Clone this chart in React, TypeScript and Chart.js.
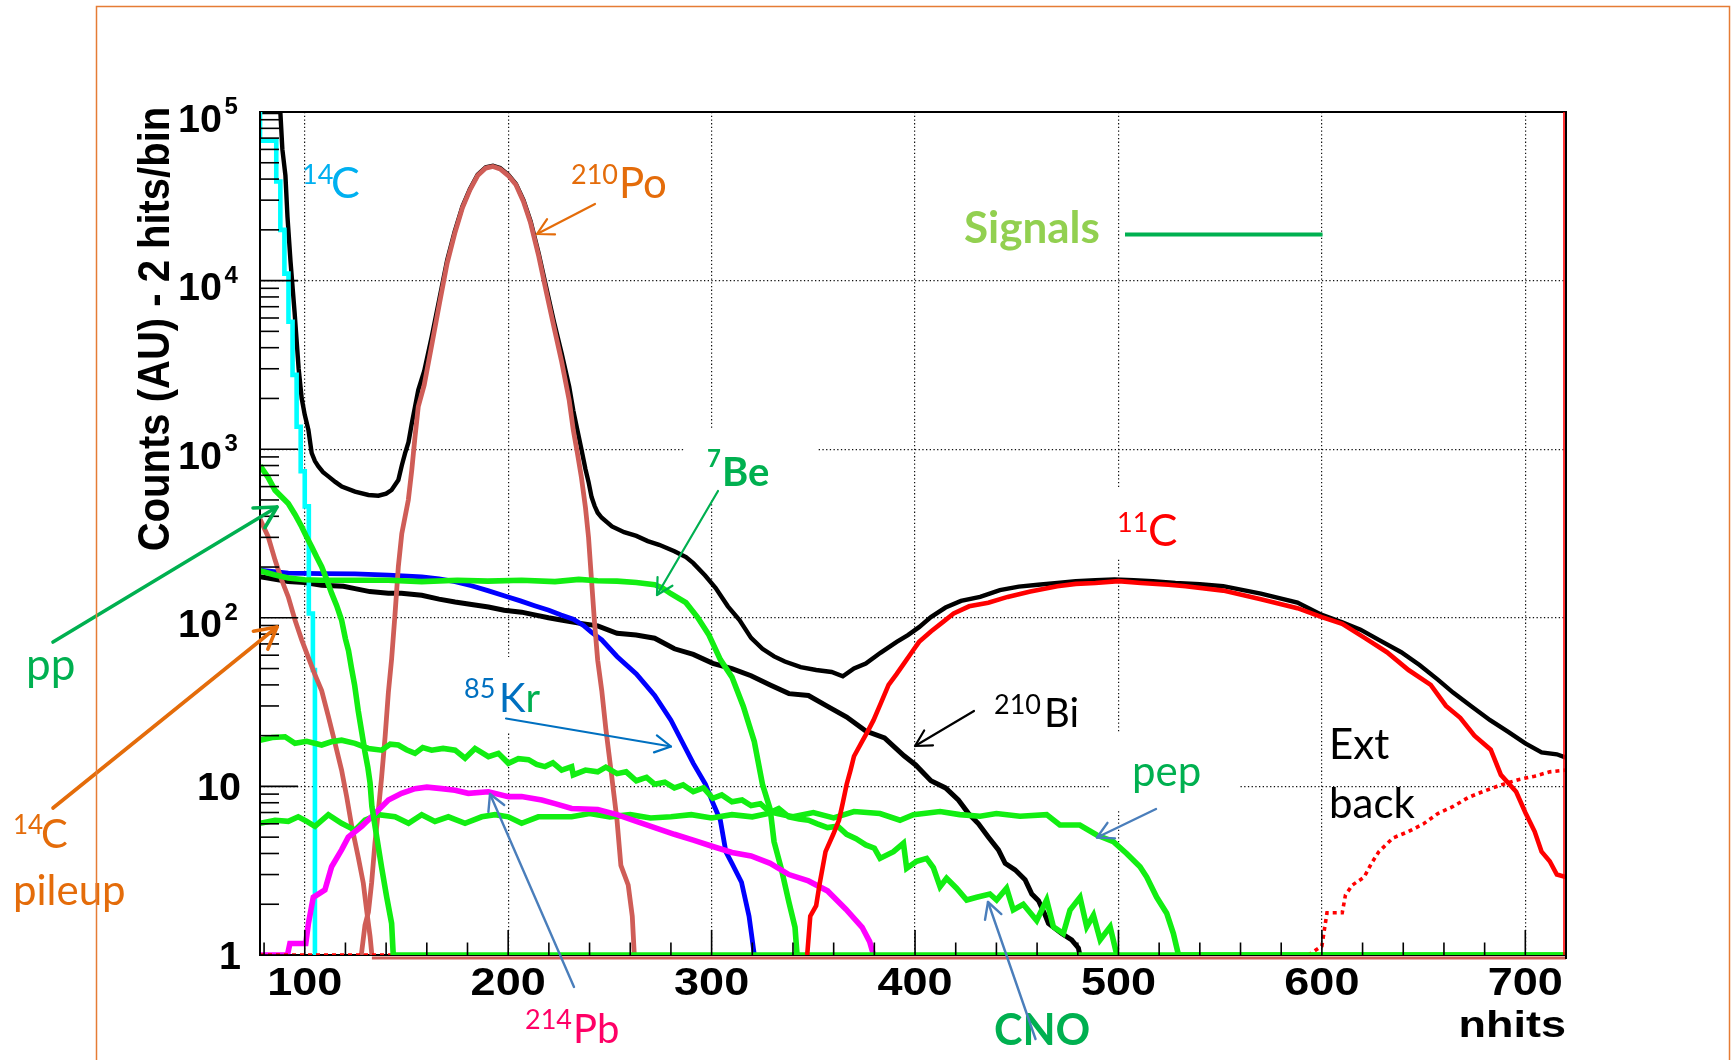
import React, { useEffect, useRef } from 'react';
import { Chart, registerables } from 'chart.js';

Chart.register(...registerables);

const W = 1732;
const H = 1060;

// ---- axis ranges and ticks ----
const X_MIN = 78;
const X_MAX = 720;
const Y_MIN = 1;
const Y_MAX = 100000;
const xTickValues = [100, 200, 300, 400, 500, 600, 700];
const xTickLabels = ['100', '200', '300', '400', '500', '600', '700'];
const yTickValues = [1, 10, 100, 1000, 10000, 100000];
const yTickBases = ['1', '10', '10', '10', '10', '10'];
const yTickExps = ['', '', '2', '3', '4', '5'];
const yGridValues = [10, 100, 1000, 10000];

// ---- series: [nhits, counts] ----
const totalSpectrum = [
  [78, 1e5], [88, 1e5], [89, 60000], [90.5, 42000], [91.5, 24000], [93, 13000], [95, 6500], [97, 3000], [98.5, 2000],
  [100, 1600], [101.8, 1300], [103.4, 950], [105, 850], [106.7, 790], [109, 730], [111.6, 690], [115, 640],
  [118.2, 600], [124.7, 560], [131.3, 535], [136.2, 530], [140, 545], [142.7, 573], [146, 656], [147.7, 800],
  [149.3, 944], [151, 1100], [152.6, 1420], [155.8, 2240], [158.7, 2900], [162.5, 4700], [166.2, 7800],
  [170, 13200], [173.7, 19500], [177.5, 27500], [181.2, 35000], [185, 42500], [189, 47000], [192.5, 48000],
  [196, 46500], [200, 42500], [203.8, 37500], [207.5, 30000], [211, 22500], [215, 14500], [218.8, 9000],
  [222.5, 5700], [226.3, 3700], [230, 2350], [232, 1700], [234, 1300], [236, 1000], [238, 760], [239.5, 640],
  [241, 520], [242.5, 460], [244, 420], [246, 392], [251, 348], [257, 322], [263, 306], [268.6, 285],
  [274.2, 271], [281.7, 248], [287.4, 229], [291, 211], [296.8, 178], [302, 150], [308, 117], [313.7, 97],
  [319.4, 76], [325, 65.5], [330.7, 59], [336, 55], [343.8, 51], [351.4, 49], [359, 47.7], [364.5, 45],
  [370, 50], [375.8, 53.5], [383, 62], [391, 72], [396.5, 79], [402, 88], [407.8, 101], [415, 115],
  [422.6, 126], [432, 133], [441.7, 146], [451, 153], [460.5, 157], [470, 161], [479, 165], [488.7, 167],
  [498, 169], [507.5, 167], [517, 165], [528, 161], [540, 158], [551.5, 154], [570, 139], [588, 123],
  [600, 104], [610, 94], [619, 85], [628, 74], [639, 62.5], [648, 52.5], [657, 43], [664.5, 36],
  [673.6, 29.8], [682.7, 24.7], [691.8, 21], [700, 18], [708, 15.9], [715.5, 15.5], [720, 14.8],
];

const c14Steps = [
  [78, 1e5], [86, 67600], [88, 38700], [90, 20000], [92, 11000], [94, 5700], [96, 2760], [98, 1360],
  [100, 740], [102, 458], [104, 106], [105, 49], [106, 1],
];

const po210 = [
  [127.8, 1], [129.6, 1.5], [131.3, 1.8], [132.9, 2.7], [134.5, 4.6], [136.2, 7.2], [137.8, 11.4], [139.5, 19.7],
  [141.1, 36], [142.7, 57], [144.4, 106], [146, 201], [147.7, 316], [150.9, 499], [152.6, 751], [154.2, 1186],
  [155.8, 1786], [158.7, 2400], [162.5, 4200], [166.2, 7300], [170, 12700], [173.7, 19000], [177.5, 27000],
  [181.2, 34500], [185, 42000], [189, 46500], [192.5, 47500], [196, 46000], [200, 42000], [203.8, 37000],
  [207.5, 29500], [211, 22000], [215, 14000], [218.8, 8500], [222.5, 5300], [226.3, 3300], [230, 1950],
  [232, 1300], [234, 950], [236, 680], [238, 450], [239.5, 300], [241, 165], [242.5, 92], [244, 56],
  [246, 37], [248, 22], [250.7, 12], [253.5, 6.3], [255.4, 3.4], [259, 2.6], [261, 1.7], [262, 1],
];

const c14Pileup = [
  [78, 385], [82, 303], [85.4, 220], [88.7, 167], [91.9, 133], [95.2, 97], [98.5, 74], [101.8, 58], [105, 46],
  [108.3, 37], [111.6, 26], [114.9, 18], [118.1, 12.5], [120.6, 8.7], [123.1, 5.8], [126.3, 3.8], [128.8, 2.66],
  [130.4, 1.85], [132.1, 1.29], [133, 1],
];

const ppNu = [
  [78, 800], [82, 680], [85.4, 571], [88.7, 520], [91.9, 476], [95.2, 410], [98.5, 347], [101, 300],
  [103.4, 264], [105.8, 230], [108.3, 201], [110.7, 170], [113.2, 140], [115.7, 118], [118.1, 97], [120, 75],
  [121.5, 64], [123, 50], [124.5, 40], [126.3, 28], [128, 21], [129.6, 16], [131, 13], [132.1, 10.5],
  [133, 7.6], [135.4, 5], [137.8, 3.3], [140.3, 2.2], [142.7, 1.54], [143.5, 1], [720, 1],
];

const be7Nu = [
  [78, 190], [85, 180], [91.9, 172], [100, 168], [108, 167], [125, 167], [141, 167], [157.5, 164], [175, 167],
  [190, 165], [206.6, 167], [223, 164], [234.7, 169], [244, 166], [253.5, 165], [263, 162], [272, 157],
  [276, 150], [280, 139], [287.4, 123], [293, 101], [298.7, 79], [304.3, 56.5], [310, 44.5], [315.6, 29.8],
  [321, 18.4], [325, 10.3], [328.8, 7.3], [330.7, 4.7], [334.4, 3.2], [338, 2.06], [341, 1.46], [342, 1],
];

const kr85 = [
  [78, 192], [91.9, 184], [108.3, 183], [124.7, 182], [141.1, 179], [157.5, 175], [166, 170], [173.9, 164],
  [182, 155], [190, 145], [198, 135], [206, 126], [213, 118], [220, 111], [226, 104], [232, 98], [237, 90],
  [241, 82], [246, 74], [253.5, 59], [263, 46.5], [272, 34.6], [280, 24.7], [285.5, 18.4], [291, 13.7],
  [297, 10.3], [300.6, 8], [304.3, 6.3], [307, 4.1], [310, 3.5], [314.7, 2.7], [318.4, 1.7], [321, 1],
];

const bi210 = [
  [78, 175], [91.9, 164], [100, 162], [108.3, 156], [119, 154], [124.7, 149], [132, 143], [141.1, 140],
  [147.5, 140], [157.5, 136], [166, 129], [173.9, 124], [182, 120], [190.3, 116], [198, 111], [206.6, 108],
  [213, 104], [219.8, 100], [226, 97], [234.7, 93], [244, 89.6], [253.5, 81], [262.9, 79], [272, 75.7],
  [281.7, 65.5], [291, 60.7], [300.6, 53.7], [310, 50], [319.4, 45.3], [328.8, 40], [338, 35.5], [347.6, 34.6],
  [357, 29.8], [366.4, 25.8], [375.8, 21.3], [385, 19.4], [394.6, 15.2], [400.3, 13.4], [407.8, 10.8],
  [415, 9.8], [421.3, 8.3], [426.3, 6.9], [431.2, 6.0], [436.1, 5.0], [441, 4.2], [444.3, 3.5], [449.2, 3.2],
  [454.1, 2.8], [457.4, 2.3], [460.7, 2.1], [464, 1.72], [465.6, 1.54], [472.1, 1.34], [477, 1.23],
  [480.3, 1.1], [481, 1],
];

const c11 = [
  [347, 1], [348.5, 1.7], [351.4, 1.96], [353, 2.6], [356, 4.1], [359.8, 5.2], [362.6, 6.3], [364.5, 8],
  [366.4, 10.3], [368.3, 12.5], [370, 15.1], [374, 18.5], [376.8, 21.3], [379.6, 24.7], [383.3, 31.4],
  [387, 40], [391, 46.5], [394.6, 53.7], [398.4, 62.5], [402, 72], [407.8, 83], [413.5, 94], [419, 106],
  [426.6, 117], [436, 123], [445.5, 133], [456.7, 143], [469.9, 154], [479, 159], [488.7, 161], [500, 165],
  [511, 161], [524.5, 157], [533, 154], [551.5, 145], [570, 129], [588, 114], [600, 101], [610, 92],
  [621, 76], [632, 62.5], [642.6, 49], [653.5, 40], [661, 30], [668, 25.5], [675, 20], [683, 16.5],
  [688, 11.7], [695.5, 9.3], [700, 7], [704.6, 5.4], [708, 4.1], [712, 3.6], [715.5, 3.0], [720, 2.9],
];

const extBack = [
  [78, 1], [593.4, 1], [600, 1.13], [602.5, 1.78], [610, 1.78], [611.6, 2.27], [615, 2.6], [620.8, 2.9],
  [624.4, 3.5], [628, 4.1], [635, 4.95], [642.6, 5.4], [650, 6.0], [657, 6.9], [664.5, 7.6], [672, 8.6],
  [679, 9.3], [688, 10.2], [697, 11], [704.6, 11.5], [712, 12.2], [720, 12.5],
];

const pb214 = [
  [78, 1], [91.5, 1], [92.7, 1.17], [100.5, 1.17], [101.8, 1.54], [104.2, 2.2], [109.9, 2.43], [113.2, 3.34],
  [118.1, 4.2], [121.4, 5.0], [128, 5.8], [134.5, 6.9], [141.1, 8.3], [147.6, 9.1], [154.2, 9.7], [160, 9.9],
  [167.3, 9.7], [173.9, 9.5], [180.4, 9.1], [190.3, 9.3], [200.1, 8.7], [206.6, 8.7], [216.5, 8.3], [223, 7.9],
  [231.2, 7.4], [244, 7.3], [253.5, 6.8], [263, 6.2], [272, 5.7], [281.7, 5.2], [291, 4.8], [300.6, 4.4],
  [310, 4.06], [319.4, 3.87], [328.8, 3.5], [338, 3.0], [347.6, 2.75], [357, 2.4], [366, 1.87], [374, 1.46],
  [377.7, 1.2], [379.6, 1],
];

const cnoNu = [
  [78, 18.8], [84, 19.5], [90.3, 19.7], [95.2, 18], [101, 18.5], [108.3, 17.6], [113, 18.4], [118.1, 18.8],
  [124.7, 18], [131.3, 16.8], [137.8, 16.4], [142, 17.8], [146, 17.6], [150, 16.5], [154.2, 15.7], [158, 17],
  [162.4, 16.4], [168, 16.8], [173.9, 16.4], [178.8, 14.7], [183.7, 16.8], [190.3, 15], [195.2, 15.7],
  [200.1, 13.7], [205, 14.6], [210, 14.4], [214, 13.5], [218.1, 13.1], [222, 13.8], [226.3, 12.5],
  [231.2, 13.1], [232, 11.7], [238, 12.5], [244, 12.2], [248, 13], [253.5, 11.9], [258, 12.2], [263, 10.8],
  [268, 11.3], [272, 10.3], [277, 10.6], [281.7, 9.8], [286, 10.2], [291, 9.3], [296, 9.8], [300.6, 8.5],
  [305, 8.9], [310, 8.1], [315, 8.3], [319.4, 7.7], [324, 7.9], [328.8, 7], [333, 7.4], [338, 6.6],
  [343, 6.4], [347.6, 6.3], [352, 6.0], [357, 5.7], [362, 5.8], [366.4, 5.2], [371, 4.9], [375.8, 4.5],
  [380, 4.3], [382.8, 3.74], [389.4, 4.1], [394.3, 4.6], [395.9, 3.27], [400.8, 3.6], [405.7, 3.74],
  [409, 3.3], [412.3, 2.54], [415.5, 2.85], [420.4, 2.49], [425.4, 2.12], [430.3, 2.2], [436.8, 2.3],
  [440.1, 2.12], [445, 2.49], [448.3, 1.85], [453.2, 2.0], [459.8, 1.6], [464.7, 2.12], [468, 1.47],
  [472.9, 1.34], [476.2, 1.85], [481.1, 2.2], [484.4, 1.47], [487.7, 1.72], [491, 1.23], [495.9, 1.47],
  [499.2, 1],
];

const pepNu = [
  [78, 6.04], [85.4, 6.3], [91.9, 6.2], [96.8, 6.6], [101, 6.2], [105, 5.8], [111.6, 6.8], [118.1, 6.04],
  [124.7, 5.5], [129.6, 6.3], [136.2, 6.8], [144.4, 6.6], [151, 6.04], [157.5, 6.8], [164, 6.2], [170.6, 6.6],
  [178.8, 6.04], [187, 6.6], [193.5, 6.8], [200.1, 6.6], [206.6, 6.04], [214.8, 6.6], [223, 6.6], [231.2, 6.6],
  [240, 6.9], [250, 6.6], [260, 6.8], [270, 6.5], [280, 6.6], [290, 6.8], [300, 6.5], [310, 6.8], [320, 6.6],
  [330, 7.0], [340, 6.6], [350, 7.0], [360, 6.5], [370, 7.1], [382.8, 6.9], [392.6, 6.3], [399.2, 6.8],
  [412.3, 7.1], [422, 6.8], [432, 6.65], [440, 6.9], [451.6, 6.65], [464.7, 6.8], [471.2, 5.9], [481, 5.9],
  [489.3, 5.15], [497.5, 4.7], [504, 4.0], [510.6, 3.34], [513.9, 2.9], [518.8, 2.2], [523.7, 1.77],
  [527, 1.34], [529.5, 1], [720, 1],
];

// ---- styling ----
const GREEN = '#12ee12';
const BROWN = '#cf5d57';

const toPts = (arr: number[][]) => arr.map(([x, y]) => ({ x, y }));

function txt(ctx: CanvasRenderingContext2D, s: string, x: number, y: number, font: string, color: string, align: CanvasTextAlign = 'left', sx = 1) {
  ctx.save();
  ctx.font = font;
  ctx.fillStyle = color;
  ctx.textAlign = align;
  ctx.textBaseline = 'alphabetic';
  ctx.translate(x, y);
  ctx.scale(sx, 1);
  ctx.fillText(s, 0, 0);
  ctx.restore();
}

function arrow(ctx: CanvasRenderingContext2D, x1: number, y1: number, x2: number, y2: number, color: string, width: number, head: number) {
  ctx.save();
  ctx.strokeStyle = color;
  ctx.lineWidth = width;
  ctx.lineCap = 'round';
  ctx.lineJoin = 'round';
  ctx.beginPath();
  ctx.moveTo(x1, y1);
  ctx.lineTo(x2, y2);
  ctx.stroke();
  const a = Math.atan2(y2 - y1, x2 - x1);
  ctx.beginPath();
  ctx.moveTo(x2 - head * Math.cos(a - 0.5), y2 - head * Math.sin(a - 0.5));
  ctx.lineTo(x2, y2);
  ctx.lineTo(x2 - head * Math.cos(a + 0.5), y2 - head * Math.sin(a + 0.5));
  ctx.stroke();
  ctx.restore();
}

// white text boxes that hide the grid beneath annotation labels
const maskBoxes = [
  [685, 428, 132, 72],
  [1092, 489, 108, 70],
  [455, 657, 93, 76],
  [1110, 732, 129, 79],
];

const LATO = 'Lato, "Open Sans", sans-serif';
const ARIAL = '"Liberation Sans", Arial, sans-serif';

const decoPlugin = {
  id: 'deco',
  beforeDraw(chart: any) {
    const ctx = chart.ctx;
    ctx.save();
    ctx.fillStyle = '#ffffff';
    ctx.fillRect(0, 0, W, H);
    ctx.restore();
  },
  beforeDatasetsDraw(chart: any) {
    const ctx = chart.ctx as CanvasRenderingContext2D;
    const { left, right, top, bottom } = chart.chartArea;
    ctx.save();
    ctx.fillStyle = '#ffffff';
    for (const [x, y, w, h] of maskBoxes) ctx.fillRect(x, y, w, h);
    ctx.strokeStyle = '#000';
    ctx.lineWidth = 2;
    ctx.beginPath();
    ctx.moveTo(left, top); ctx.lineTo(right, top); ctx.lineTo(right, bottom); ctx.lineTo(left, bottom); ctx.closePath();
    ctx.stroke();
    ctx.restore();
  },
  afterDatasetsDraw(chart: any) {
    const ctx = chart.ctx as CanvasRenderingContext2D;
    const { left, right, top, bottom } = chart.chartArea;
    const xs = chart.scales.x;
    const ys = chart.scales.y;

    ctx.save();
    // zero-level strip under the axis (brownish)
    ctx.strokeStyle = BROWN;
    ctx.lineWidth = 3;
    ctx.beginPath(); ctx.moveTo(xs.getPixelForValue(133), bottom + 3); ctx.lineTo(right, bottom + 3); ctx.stroke();
    // frame left / right
    ctx.strokeStyle = '#000';
    ctx.lineWidth = 2;
    ctx.beginPath(); ctx.moveTo(left, top); ctx.lineTo(left, bottom); ctx.stroke();
    ctx.beginPath(); ctx.moveTo(right, top); ctx.lineTo(right, bottom + 4); ctx.stroke();
    ctx.strokeStyle = '#ff0000';
    ctx.lineWidth = 1.6;
    ctx.beginPath(); ctx.moveTo(right - 2, top); ctx.lineTo(right - 2, bottom); ctx.stroke();

    // ticks
    ctx.strokeStyle = '#000';
    ctx.lineWidth = 1.6;
    for (let v = 80; v < X_MAX; v += 20) {
      const px = xs.getPixelForValue(v);
      const len = v % 100 === 0 ? 25 : 12.5;
      ctx.beginPath(); ctx.moveTo(px, bottom); ctx.lineTo(px, bottom - len); ctx.stroke();
    }
    for (let e = 0; e < 5; e++) {
      for (let m = 1; m <= 9; m++) {
        const py = ys.getPixelForValue(m * Math.pow(10, e));
        const len = m === 1 ? 38 : 19;
        ctx.beginPath(); ctx.moveTo(left, py); ctx.lineTo(left + len, py); ctx.stroke();
      }
    }
    ctx.restore();

    // x tick labels
    xTickValues.forEach((v, i) => {
      txt(ctx, xTickLabels[i], xs.getPixelForValue(v), 995, `bold 39.5px ${ARIAL}`, '#000', 'center', 1.14);
    });
    // y tick labels
    yTickValues.forEach((v, i) => {
      const py = ys.getPixelForValue(v);
      if (yTickExps[i]) {
        txt(ctx, yTickBases[i], 222, py + 19.5, `bold 39.5px ${ARIAL}`, '#000', 'right');
        txt(ctx, yTickExps[i], 224.5, py + 2, `bold 24px ${ARIAL}`, '#000', 'left');
      } else {
        txt(ctx, yTickBases[i], 241, py + 14, `bold 39.5px ${ARIAL}`, '#000', 'right');
      }
    });
    // axis titles
    txt(ctx, 'nhits', 1566, 1037, `bold 37.5px ${ARIAL}`, '#000', 'right', 1.2);
    ctx.save();
    ctx.font = `bold 40px ${ARIAL}`;
    ctx.fillStyle = '#000';
    ctx.textAlign = 'center';
    ctx.textBaseline = 'alphabetic';
    ctx.translate(168.5, 329);
    ctx.scale(1.13, 1);
    ctx.rotate(-Math.PI / 2);
    ctx.fillText('Counts (AU) - 2 hits/bin', 0, 0);
    ctx.restore();

    // annotations
    const sup = (s: string, x: number, y: number, size: number, color: string, bold = false) =>
      txt(ctx, s, x, y, `${bold ? 'bold ' : ''}${size}px ${LATO}`, color, 'left');

    // 14C (cyan)
    sup('14', 302, 184, 27, '#00b0f0');
    sup('C', 331, 198, 43, '#00b0f0');
    // 210Po
    sup('210', 571, 184, 27, '#e46c0a');
    sup('Po', 619, 198, 42, '#e46c0a');
    arrow(ctx, 595, 204, 537, 234, '#e46c0a', 2.2, 18);
    // Signals legend
    sup('Signals', 964, 243, 44, '#92d050', true);
    ctx.save();
    ctx.strokeStyle = '#00b050';
    ctx.lineWidth = 4;
    ctx.beginPath(); ctx.moveTo(1125, 234.5); ctx.lineTo(1322.5, 234.5); ctx.stroke();
    ctx.restore();
    // 7Be
    sup('7', 707, 467, 24, '#00b050', true);
    sup('Be', 722, 486, 40, '#00b050', true);
    arrow(ctx, 718, 491, 657, 595, '#00b050', 2.2, 18);
    // 11C
    sup('11', 1117, 532, 27, '#ff0000');
    sup('C', 1148, 546, 44, '#ff0000');
    // 210Bi
    sup('210', 994, 714, 27, '#000000');
    sup('Bi', 1044, 727, 40, '#000000');
    arrow(ctx, 974, 711, 915, 746, '#000000', 2.2, 18);
    // 85Kr
    sup('85', 464, 698, 27, '#0070c0');
    sup('K', 499, 712, 40, '#0070c0');
    ctx.save();
    ctx.font = `40px ${LATO}`;
    const kW = ctx.measureText('K').width;
    ctx.restore();
    sup('r', 499 + kW, 712, 40, '#00b050');
    arrow(ctx, 506, 718.5, 671, 746.5, '#0070c0', 2.2, 18);
    // pep
    sup('pep', 1132, 786, 42, '#00b050');
    arrow(ctx, 1156, 809, 1097, 837.5, '#4a7ebb', 2.4, 18);
    // Ext back
    sup('Ext', 1329, 759, 42, '#000000');
    sup('back', 1329, 818, 42, '#000000');
    // CNO
    sup('CNO', 994, 1045, 43, '#00b050', true);
    arrow(ctx, 1035.5, 1039, 988, 902, '#4a7ebb', 2.4, 18);
    // 214Pb
    sup('214', 525, 1029, 27, '#ff0066');
    sup('Pb', 573, 1043, 40, '#ff0066');
    arrow(ctx, 574, 987, 490, 794, '#4a7ebb', 2.4, 18);
    // pp
    sup('pp', 26, 680, 44, '#00b050');
    arrow(ctx, 53, 642, 277, 507, '#00b050', 3.6, 24);
    // 14C pileup
    sup('14', 13, 834, 26, '#e46c0a');
    sup('C', 41, 848, 40, '#e46c0a');
    sup('pileup', 13, 905, 42, '#e46c0a');
    arrow(ctx, 53, 808, 277, 627, '#e46c0a', 3.6, 24);

    // outer slide frame
    ctx.save();
    ctx.strokeStyle = '#e57c35';
    ctx.lineWidth = 1.5;
    ctx.strokeRect(96.5, 6.5, 1633, 1200);
    ctx.restore();
  },
};

export default function App() {
  const canvasRef = useRef<HTMLCanvasElement | null>(null);

  useEffect(() => {
    const canvas = canvasRef.current;
    if (!canvas) return;
    const base = { pointRadius: 0, fill: false, tension: 0, borderJoinStyle: 'miter' as const, borderWidth: 5 };
    const datasets: any[] = [
      { ...base, label: '11C', data: toPts(c11), borderColor: '#ff0000', borderWidth: 4.6 },
      { ...base, label: 'pp', data: toPts(ppNu), borderColor: GREEN, borderWidth: 5.6 },
      { ...base, label: 'Ext back', data: toPts(extBack), borderColor: '#ff0000', borderWidth: 3.6, borderDash: [4, 4] },
      { ...base, label: '214Pb', data: toPts(pb214), borderColor: '#ff00ff', borderWidth: 5.6 },
      { ...base, label: 'pep', data: toPts(pepNu), borderColor: GREEN, borderWidth: 5.6 },
      { ...base, label: 'CNO', data: toPts(cnoNu), borderColor: GREEN, borderWidth: 5.6 },
      { ...base, label: '7Be', data: toPts(be7Nu), borderColor: GREEN, borderWidth: 5.6 },
      { ...base, label: '210Po', data: toPts(po210), borderColor: BROWN, borderWidth: 4.8 },
      { ...base, label: '14C pileup', data: toPts(c14Pileup), borderColor: BROWN, borderWidth: 4.8 },
      { ...base, label: '14C', data: toPts(c14Steps), borderColor: '#00ffff', borderWidth: 4.6, stepped: 'after' },
      { ...base, label: '85Kr', data: toPts(kr85), borderColor: '#0000ff', borderWidth: 4.8 },
      { ...base, label: '210Bi', data: toPts(bi210), borderColor: '#000000', borderWidth: 5 },
      { ...base, label: 'Total', data: toPts(totalSpectrum), borderColor: '#000000', borderWidth: 4.4 },
    ];

    const chart = new Chart(canvas, {
      type: 'line',
      data: { datasets },
      options: {
        animation: false,
        responsive: false,
        events: [],
        layout: { padding: { left: 260, top: 112, right: W - 1566, bottom: H - 955 } },
        plugins: { legend: { display: false }, tooltip: { enabled: false }, title: { display: false } },
        scales: {
          x: {
            type: 'linear',
            min: X_MIN,
            max: X_MAX,
            ticks: { display: false },
            grid: { color: '#111', lineWidth: 1.2, drawTicks: false },
            border: { display: false, dash: [1.3, 2.4] },
            afterBuildTicks: (axis: any) => { axis.ticks = xTickValues.map((v) => ({ value: v })); },
            afterFit: (axis: any) => { axis.height = 0; },
          },
          y: {
            type: 'logarithmic',
            min: Y_MIN,
            max: Y_MAX,
            ticks: { display: false },
            grid: { color: '#111', lineWidth: 1.2, drawTicks: false },
            border: { display: false, dash: [1.3, 2.4] },
            afterBuildTicks: (axis: any) => { axis.ticks = yGridValues.map((v) => ({ value: v })); },
            afterFit: (axis: any) => { axis.width = 0; },
          },
        },
      } as any,
      plugins: [decoPlugin],
    });
    return () => chart.destroy();
  }, []);

  return (
    <div style={{ position: 'absolute', left: 0, top: 0, width: W, height: H, overflow: 'hidden', background: '#fff' }}>
      <canvas ref={canvasRef} width={W} height={H} style={{ width: W, height: H, display: 'block' }} />
    </div>
  );
}
